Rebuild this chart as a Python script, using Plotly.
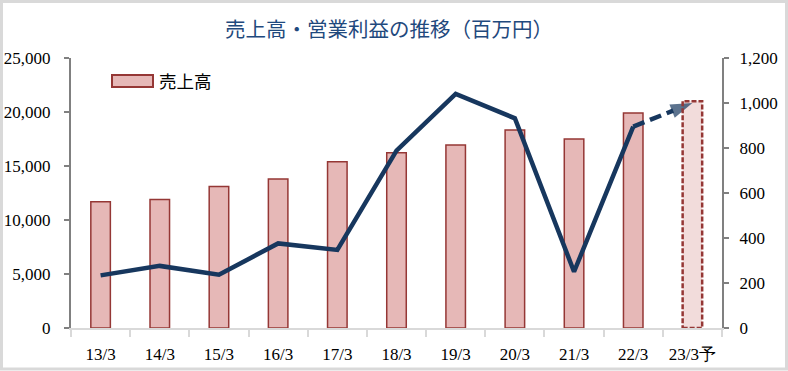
import plotly.graph_objects as go

# ---- data ----
categories = ['13/3', '14/3', '15/3', '16/3', '17/3', '18/3', '19/3', '20/3', '21/3', '22/3', '23/3予']
sales = [11700, 11900, 13100, 13800, 15400, 16230, 16940, 18330, 17500, 19900, 21000]
op_income = [234, 276, 237, 376, 347, 788, 1040, 932, 250, 895, 1000]
n_actual = 10  # last category is a forecast

title_text = '売上高・営業利益の推移（百万円）'
legend_label = '売上高'

# ---- style ----
BAR_FILL = '#E6B8B7'
BAR_EDGE = '#953735'
FC_FILL = '#F2DCDB'
LINE_C = '#17375E'
AX_C = '#808080'
BASE_C = '#D9D9D9'
BAR_W = 0.33

W, H = 788, 371
ML, MR, MT, MB = 71, 66, 58, 43
PW, PH = W - ML - MR, H - MT - MB


def px(xp):
    return (xp - ML) / PW


def py(yp):
    return (H - MB - yp) / PH


fig = go.Figure()

fill_colors = [BAR_FILL] * n_actual + [FC_FILL] * (len(categories) - n_actual)
edge_colors = [BAR_EDGE] * n_actual + ['rgba(0,0,0,0)'] * (len(categories) - n_actual)

fig.add_trace(go.Bar(
    x=categories, y=sales, name=legend_label, width=BAR_W,
    marker=dict(color=fill_colors, line=dict(color=edge_colors, width=1.5)),
    yaxis='y', showlegend=False,
))

# solid line over actual years
fig.add_trace(go.Scatter(
    x=categories[:n_actual], y=op_income[:n_actual], mode='lines',
    line=dict(color=LINE_C, width=4.5), yaxis='y2', showlegend=False,
))
# dashed forecast segment with arrow head
fig.add_trace(go.Scatter(
    x=categories[n_actual - 1:], y=op_income[n_actual - 1:], mode='lines+markers',
    line=dict(color=LINE_C, width=4.5, dash='12px,6px'),
    marker=dict(symbol='arrow', angleref='previous', size=[0, 23], color=LINE_C,
                line=dict(width=0)),
    yaxis='y2', showlegend=False,
))

shapes = []
# dashed outline of forecast bar (derived from data)
for i in range(n_actual, len(categories)):
    shapes.append(dict(
        type='rect', xref='x', yref='y',
        x0=i - BAR_W / 2, x1=i + BAR_W / 2, y0=0, y1=sales[i],
        line=dict(color=BAR_EDGE, width=2.5, dash='5px,2px'),
        fillcolor='rgba(0,0,0,0)', layer='above',
    ))
# manual legend swatch
shapes.append(dict(
    type='rect', xref='paper', yref='paper',
    x0=px(112), x1=px(153), y0=py(87), y1=py(75),
    line=dict(color=BAR_EDGE, width=2), fillcolor=BAR_FILL,
))
# outer border
shapes.append(dict(
    type='rect', xref='paper', yref='paper',
    x0=px(1.5), x1=px(786.5), y0=py(369), y1=py(1.5),
    line=dict(color=BASE_C, width=3), fillcolor='rgba(0,0,0,0)', layer='below',
))

annotations = [
    dict(text=legend_label, xref='paper', yref='paper', x=px(157), y=py(81),
         xanchor='left', yanchor='middle', showarrow=False,
         font=dict(family='Noto Sans CJK JP', size=17.5, color='#000000')),
]

tick_font = dict(family='Liberation Serif', size=17, color='#000000')

fig.update_layout(
    width=W, height=H,
    margin=dict(l=ML, r=MR, t=MT, b=MB, pad=0, autoexpand=False),
    paper_bgcolor='white', plot_bgcolor='white',
    title=dict(text=title_text, x=389 / W, xanchor='center', y=1 - 30 / H, yanchor='middle',
               font=dict(family='Noto Sans CJK JP', size=20.5, color='#1F497D')),
    barmode='overlay',
    xaxis=dict(
        type='category', categoryorder='array', categoryarray=categories,
        range=[-0.5, len(categories) - 0.5], automargin=False,
        showline=True, linecolor=BASE_C, linewidth=2,
        ticks='outside', tickson='boundaries', ticklen=7, tickwidth=2, tickcolor=BASE_C,
        tickfont=tick_font, showgrid=False, zeroline=False, ticklabelstandoff=10,
    ),
    yaxis=dict(
        range=[0, 25000], dtick=5000, tickformat=',d', automargin=False,
        showline=True, linecolor=AX_C, linewidth=2,
        ticks='outside', ticklen=5, tickwidth=2, tickcolor=AX_C,
        tickfont=tick_font, showgrid=False, zeroline=False, ticklabelstandoff=10,
    ),
    yaxis2=dict(
        range=[0, 1200], dtick=200, tickformat=',d', overlaying='y', side='right',
        automargin=False,
        showline=True, linecolor=AX_C, linewidth=2,
        ticks='outside', ticklen=5, tickwidth=2, tickcolor=AX_C,
        tickfont=tick_font, showgrid=False, zeroline=False, ticklabelstandoff=7,
    ),
    shapes=shapes, annotations=annotations,
    showlegend=False,
)

fig.write_html('out.html', config={'displayModeBar': False},
               post_script="document.body.style.margin='0';")
